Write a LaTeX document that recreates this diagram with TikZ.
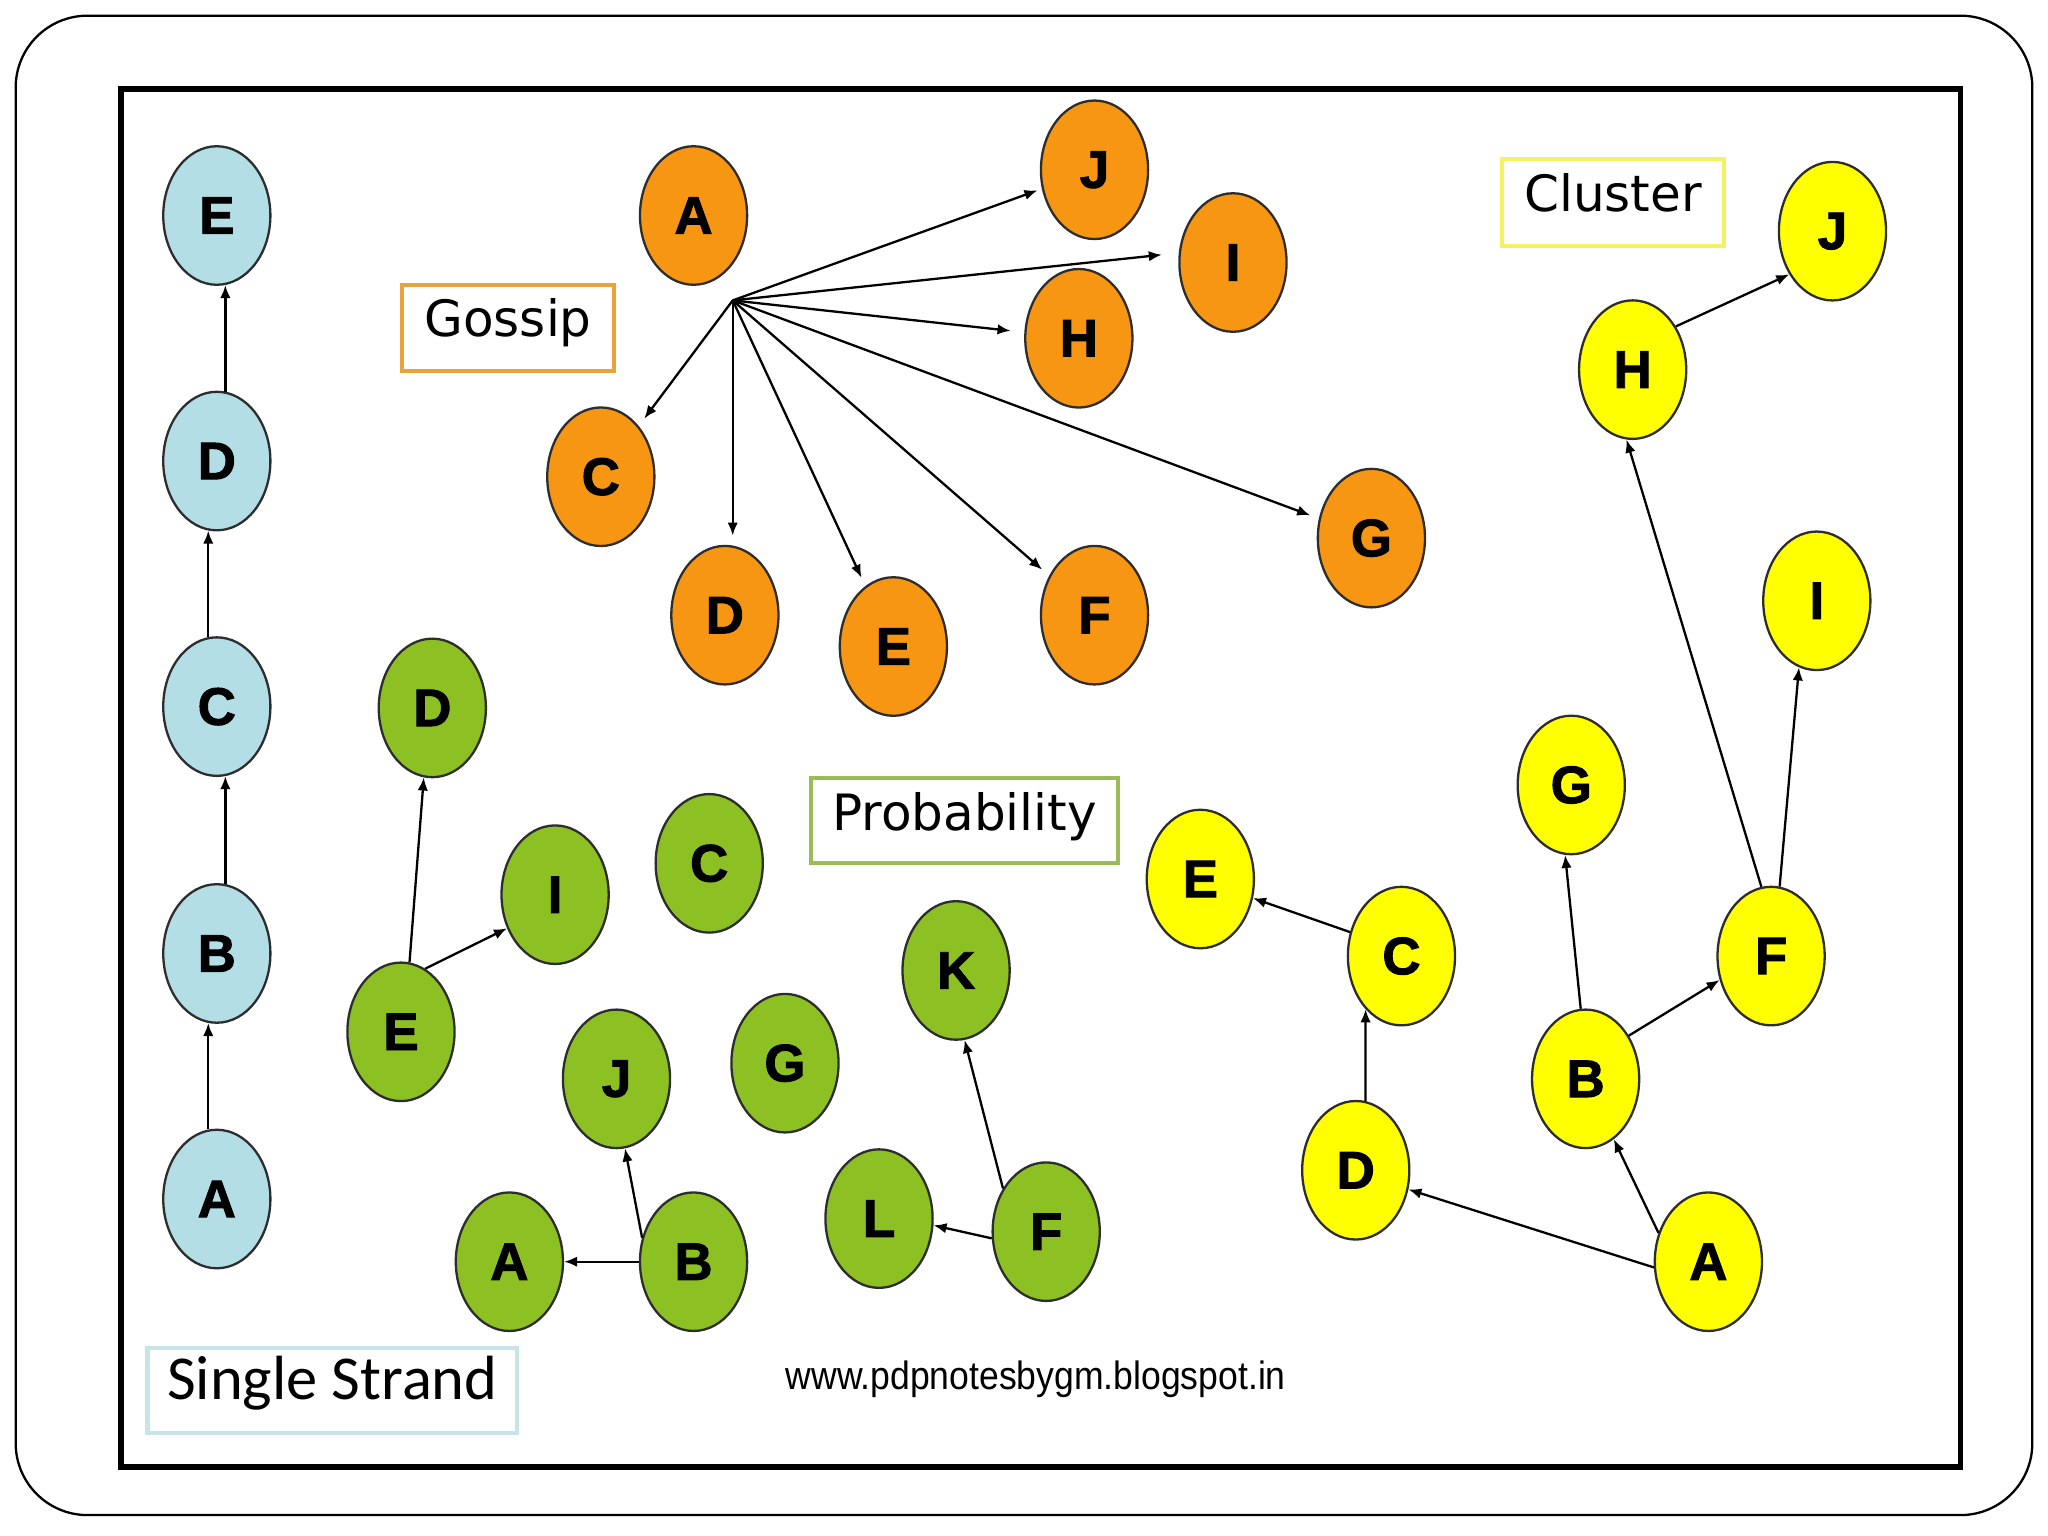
\documentclass[tikz,border=0pt]{standalone}
\usepackage{fontspec}
\usetikzlibrary{shapes.geometric,arrows.meta}
\newfontfamily\nodefont{Liberation Sans}[BoldFeatures={FakeBold=1.8}]
\newfontfamily\labfont{DejaVu Sans}
\newfontfamily\ssfont{Carlito}
\newfontfamily\urlfont{Liberation Sans}
\definecolor{ssblue}{RGB}{180,222,230}
\definecolor{gsorange}{RGB}{247,150,18}
\definecolor{prgreen}{RGB}{141,192,34}
\definecolor{clyellow}{RGB}{255,255,0}
\definecolor{gsbox}{RGB}{233,163,60}
\definecolor{clbox}{RGB}{242,242,100}
\definecolor{prbox}{RGB}{155,187,89}
\definecolor{ssbox}{RGB}{200,228,232}
\definecolor{edgegray}{RGB}{45,45,45}
\begin{document}
\begin{tikzpicture}[x=0.01cm,y=-0.01cm,
  nd/.style={ellipse, draw=edgegray, line width=0.5pt, minimum width=0.82cm, minimum height=1.06cm, inner sep=0pt,
    font=\nodefont\bfseries\fontsize{11.5}{12}\selectfont},
  ssn/.style={nd, fill=ssblue},
  gsn/.style={nd, fill=gsorange},
  prn/.style={nd, fill=prgreen},
  cln/.style={nd, fill=clyellow},
  arr/.style={-{Latex[length=0.1cm,width=0.08cm]}, line width=0.5pt, draw=black},
  lab/.style={draw, line width=0.9pt, fill=white, inner sep=0pt, text height=0.28cm, text depth=0.14cm,
    font=\labfont\fontsize{10.9}{12}\selectfont}
]
\useasboundingbox (0,0) rectangle (1568,1176);
% frames
\draw[line width=0.5pt, rounded corners=0.55cm] (12,12) rectangle (1556,1160);
\draw[line width=1.3pt] (93,68) rectangle (1501,1123);

% ---------- Single Strand ----------
\node[ssn] (sE) at (166,165) {E};
\node[ssn] (sD) at (166,353) {D};
\node[ssn] (sC) at (166,541) {C};
\node[ssn] (sB) at (166,730) {B};
\node[ssn] (sA) at (166,918) {A};
\draw[arr] (sA.97) -- (sB.263);
\draw[arr] (sB.83) -- (sC.277);
\draw[arr] (sC.97) -- (sD.263);
\draw[arr] (sD.83) -- (sE.277);
\node[lab, draw=ssbox, minimum width=2.83cm, minimum height=0.65cm, font=\ssfont\fontsize{13.6}{15}\selectfont] (ssl) at (254.5,1064.5) {Single Strand};

% ---------- Gossip ----------
\node[gsn] (gA) at (531,165) {A};
\node[gsn] (gJ) at (838,130) {J};
\node[gsn] (gI) at (944,201) {I};
\node[gsn] (gH) at (826,259) {H};
\node[gsn] (gC) at (460,365) {C};
\node[gsn] (gG) at (1050,412) {G};
\node[gsn] (gD) at (555,471) {D};
\node[gsn] (gE) at (684,495) {E};
\node[gsn] (gF) at (838,471) {F};
\coordinate (hub) at (561,230);
\draw[arr, shorten >=2pt] (hub) -- (gC);
\draw[arr, shorten >=2pt] (hub) -- (gD.north -| hub);
\draw[arr, shorten >=2pt] (hub) -- (gE);
\draw[arr, shorten >=2pt] (hub) -- (gF);
\draw[arr, shorten >=2pt] (hub) -- (gG);
\draw[arr, shorten >=3pt] (hub) -- (gH);
\draw[arr, shorten >=3.7pt] (hub) -- (gI.170);
\draw[arr, shorten >=1pt] (hub) -- (gJ);
\node[lab, draw=gsbox, minimum width=1.62cm, minimum height=0.66cm] (gsl) at (389,251) {Gossip};

% ---------- Probability ----------
\node[prn] (pD) at (331,542) {D};
\node[prn] (pI) at (425,685) {I};
\node[prn] (pC) at (543,661) {C};
\node[prn] (pE) at (307,790) {E};
\node[prn] (pK) at (732,743) {K};
\node[prn] (pJ) at (472,826) {J};
\node[prn] (pG) at (601,814) {G};
\node[prn] (pA) at (390,966) {A};
\node[prn] (pB) at (531,966) {B};
\node[prn] (pL) at (673,933) {L};
\node[prn] (pF) at (801,943) {F};
\draw[arr] (pE.83) -- (pD.263);
\draw[arr] (pE.69) -- (pI.215);
\draw[arr] (pB.west) -- (pA.east);
\draw[arr] (pB.155) -- (pJ.277);
\draw[arr] (pF.187) -- (pL.353);
\draw[arr] (pF.135) -- (pK.277);
\node[lab, draw=prbox, minimum width=2.35cm, minimum height=0.65cm] (prl) at (738.5,628.5) {Probability};

% ---------- Cluster ----------
\node[cln] (cJ) at (1403,177) {J};
\node[cln] (cH) at (1250,283) {H};
\node[cln] (cI) at (1391,460) {I};
\node[cln] (cG) at (1203,601) {G};
\node[cln] (cE) at (919,673) {E};
\node[cln] (cC) at (1073,732) {C};
\node[cln] (cF) at (1356,732) {F};
\node[cln] (cB) at (1214,826) {B};
\node[cln] (cD) at (1038,896) {D};
\node[cln] (cA) at (1308,966) {A};
\draw[arr] (cH.45) -- (cJ.225);
\draw[arr] (cF.98) -- (cH.265);
\draw[arr] (cF.83) -- (cI.255);
\draw[arr] (cB.94) -- (cG.265);
\draw[arr] (cB.45) -- (cF.205);
\draw[arr] (cA.150) -- (cB.295);
\draw[arr] (cA.186) -- (cD.340);
\draw[arr] (cD.82) -- (cC.236);
\draw[arr] (cC.155) -- (cE.340);
\node[lab, draw=clbox, minimum width=1.70cm, minimum height=0.66cm] (cll) at (1235,155) {Cluster};

% ---------- URL ----------
\node[inner sep=0pt, font=\urlfont\fontsize{8.6}{10}\selectfont] (url) at (793,1056) {\scalebox{0.9}[1]{www.pdpnotesbygm.blogspot.in}};
\end{tikzpicture}
\end{document}
